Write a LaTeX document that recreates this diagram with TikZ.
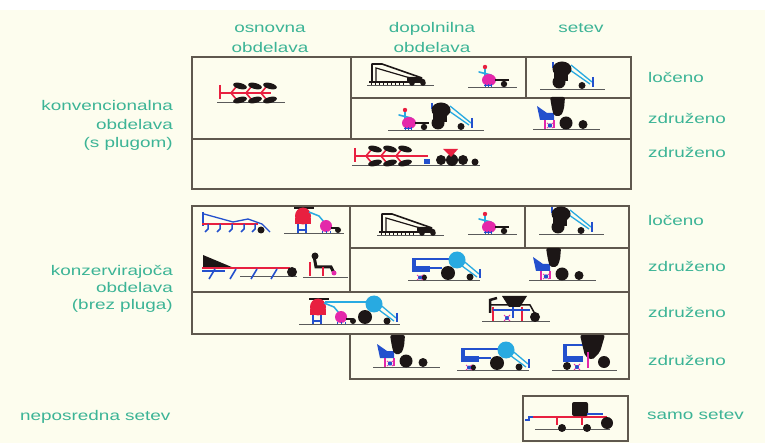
\documentclass[tikz,border=0pt]{standalone}
\usepackage{fontspec}
\setmainfont{Liberation Sans}[FakeStretch=1.35]
\definecolor{paper}{RGB}{253,253,238}
\definecolor{lbl}{RGB}{60,180,150}
\definecolor{rule}{RGB}{95,88,78}
\definecolor{ink}{RGB}{28,22,22}
\definecolor{plred}{RGB}{232,32,64}
\definecolor{mag}{RGB}{228,40,170}
\definecolor{cyn}{RGB}{40,170,225}
\definecolor{blu}{RGB}{35,80,205}
\definecolor{gndc}{RGB}{90,90,90}
\tikzset{
  box/.style={rule, line width=1.2pt},
  lab/.style={lbl, font=\fontsize{14}{18.5}\selectfont, inner sep=0pt},
  gnd/.style={gndc, line width=0.8pt},
  % plough with three shares
  plough/.pic={
    \draw[gnd] (0,0) -- (68,0);
    \draw[plred, line width=2pt] (3,-17) -- (3,-3) (3,-9) -- (54,-9);
    \foreach \s in {14,29,44}{
      \draw[plred, line width=1.6pt] (\s,-9) -- (\s+5,-15) (\s,-9) -- (\s+5,-3);
      \fill[ink, rotate around={-14:(\s+9,-16)}] (\s+9,-16) ellipse (7 and 3);
      \fill[ink, rotate around={14:(\s+9,-2)}] (\s+9,-2) ellipse (7 and 3);
    }
  },
  % harrow frame
  frame/.pic={
    \draw[gnd] (0,0) -- (67,0);
    \draw[ink, line width=1.6pt, line join=round] (5,-3) -- (5,-21) -- (15,-21) -- (55,-7);
    \draw[ink, line width=1.2pt] (9,-3) -- (9,-17) -- (50,-5);
    \draw[ink, line width=2.2pt] (2,-3) -- (42,-3);
    \foreach \t in {4,8,...,36} \draw[ink, line width=0.9pt] (\t,-3) -- (\t,0);
    \fill[ink] (40,-8) -- (52,-8) -- (58,-5) -- (58,-2) -- (40,-2) -- cycle;
    \fill[ink] (45,-2) circle (2.8) (56,-2) circle (2.8);
  },
  minitractor/.pic={
    \draw[gnd] (0,0) -- (49,0);
    \draw[cyn, line width=1.6pt, line cap=round] (17,-18) -- (17,-10) (11,-15) -- (23,-12);
    \fill[plred] (17,-20) circle (2.2);
    \fill[mag] (21,-7) ellipse (7 and 6);
    \draw[blu, line width=0.9pt] (17,-3) -- (17,0) (20,-3) -- (20,0) (23,-3) -- (23,0) (16,-1.5) -- (24,-1.5);
    \draw[ink, line width=2pt] (27,-7) -- (41,-7);
    \fill[ink] (36,-3) circle (3.2);
  },
  hopper/.pic={
    \draw[gnd] (0,0) -- (65,0);
    \draw[cyn, line width=1.3pt] (31,-24) -- (52,-7) (30,-19) -- (50,-5);
    \draw[blu, line width=1.6pt] (53,-12) -- (53,-2);
    \draw[blu, line width=1.4pt] (13,-27) -- (13,-21);
    \fill[ink] (22,-20) ellipse (9.5 and 7.5);
    \fill[ink] (14,-18) rectangle (28,-8);
    \fill[ink] (19,-7) circle (6.5);
    \fill[ink] (42,-3.5) circle (3.5);
  },
  planter/.pic={
    \draw[gnd] (0,0) -- (67,0);
    \fill[blu] (4,-23) -- (14,-16) -- (21,-16) -- (21,-9) -- (7,-9) -- cycle;
    \draw[mag, line width=1.2pt] (12,-9) -- (12,0) (21,-9) -- (21,-1);
    \fill[ink, rounded corners=2pt] (17,-32) -- (32,-32) -- (31,-20) -- (28,-13) -- (21,-13) -- (19,-20) -- cycle;
    \fill[ink] (33,-6) circle (6.5);
    \fill[ink] (50,-4.5) circle (4.5);
    \draw[mag, line width=0.8pt] (14,-6) -- (20,-1) (14,-1) -- (20,-6);
    \fill[blu] (17,-3.5) circle (2.2);
  },
  seedbox/.pic={
    \draw[cyn, line width=1.3pt] (12,-22) -- (31,-6) (10,-17) -- (29,-3);
    \draw[blu, line width=1.6pt] (32,-11) -- (32,-2);
    \fill[cyn] (9,-20) circle (8.5);
    \fill[ink] (0,-7) circle (7);
    \fill[ink] (22,-3) circle (3.5);
  },
  drill/.pic={
    \draw[gnd] (0,0) -- (72,0);
    \draw[blu, line width=1.6pt] (6,-21) -- (45,-21);
    \fill[blu] (4,-22) rectangle (8,-8);
    \fill[blu] (8,-14) rectangle (22,-8);
    \draw[blu, line width=1.2pt] (22,-12) -- (34,-12);
    \fill[ink] (16,-2.5) circle (3);
    \draw[mag, line width=0.8pt] (9,-5) -- (15,0) (9,0) -- (15,-5);
    \fill[blu] (12,-2.5) circle (2);
    \pic at (40,0) {seedbox};
  },
  redtractor/.pic={
    \draw[gnd] (0,0) -- (60,0);
    \draw[ink, line width=1.2pt] (10,-25) -- (30,-25);
    \draw[blu, line width=1.2pt] (14,-9) -- (14,0) (22,-9) -- (22,0) (13,-3) -- (23,-3);
    \fill[plred] (19,-17) ellipse (8 and 8.5);
    \fill[plred] (11,-15) rectangle (27,-9);
    \draw[cyn, line width=1.5pt] (25,-21) -- (35,-17) -- (40,-11);
    \fill[mag] (42,-7) circle (6);
    \draw[blu, line width=0.9pt] (38,-2) -- (38,0) (42,-2) -- (42,0) (46,-2) -- (46,0);
    \draw[ink, line width=1.5pt] (47,-5) -- (54,-5);
    \fill[ink] (54,-3) circle (3);
  }
}
\begin{document}
\begin{tikzpicture}[x=1pt,y=-1pt]
\useasboundingbox (0,0) rectangle (765,443);
\fill[white] (0,0) rectangle (765,443);
\fill[paper] (0,10) rectangle (765,443);

% column and row labels (base = last line)
\node[lab, align=center, anchor=base] (osn) at (270,53) {osnovna\\[1.5pt]obdelava};
\node[lab, align=center, anchor=base] (dop) at (432,53) {dopolnilna\\[1.5pt]obdelava};
\node[lab, anchor=base] (set) at (581,33) {setev};
\node[lab, align=right, anchor=base east] (konv) at (173,148) {konvencionalna\\obdelava\\(s plugom)};
\node[lab, align=right, anchor=base east] (konz) at (173,310) {konzervirajoča\\[-1pt]obdelava\\[-1pt](brez pluga)};
\node[lab, anchor=base west] (nep) at (20,420) {neposredna setev};
\node[lab, anchor=base west] (loc1) at (648,83) {ločeno};
\node[lab, anchor=base west] (zdr1) at (648,124) {združeno};
\node[lab, anchor=base west] (zdr2) at (648,158) {združeno};
\node[lab, anchor=base west] (loc2) at (648,226) {ločeno};
\node[lab, anchor=base west] (zdr3) at (648,272) {združeno};
\node[lab, anchor=base west] (zdr4) at (648,317) {združeno};
\node[lab, anchor=base west] (zdr5) at (648,365) {združeno};
\node[lab, anchor=base west] (samo) at (647,419) {samo setev};

% upper table
\draw[box] (192,57) rectangle (631,189);
\draw[box] (351,57) -- (351,139) (351,98) -- (631,98) (526,57) -- (526,98) (192,139) -- (631,139);
% lower table
\draw[box] (192,206) -- (629,206) -- (629,379) -- (350,379) -- (350,334) -- (192,334) -- cycle;
\draw[box] (350,206) -- (350,292) (350,248) -- (629,248) (525,206) -- (525,248)
  (192,292) -- (629,292) (350,334) -- (629,334);
% small box
\draw[box] (523,396) rectangle (628,441);

% upper table machines
\pic at (217,102) {plough};
\pic at (367,85) {frame};
\pic at (468,87) {minitractor};
\pic at (540,89) {hopper};
\pic at (388,130) {minitractor};
\pic at (419,130) {hopper};
\pic at (533,129) {planter};
\pic at (352,165) {plough};
\draw[gnd] (420,165) -- (480,165);
\draw[plred, line width=2pt] (406,156) -- (428,156);
\fill[blu] (424,159) rectangle (430,164);
\fill[ink] (441,160) circle (5) (452,160) circle (6) (463,160) circle (5) (475,162) circle (3.5);
\fill[plred] (443,149) -- (458,149) -- (451,157) -- cycle;

% lower table, left cell: cultivator
\draw[blu, line width=2.2pt] (203,212) -- (203,226);
\draw[plred, line width=2pt] (202,224) -- (258,224);
\draw[blu, line width=1.3pt] (204,214) -- (233,222) -- (248,219) -- (262,224) -- (270,232);
\foreach \t in {208,220,232,244,255}
  \draw[blu, line width=1.5pt] (\t,224) -- (\t,229) -- (\t-3,232);
\fill[ink] (261,230) circle (3.5);
\pic at (284,233) {redtractor};
% subsoiler
\draw[gnd] (240,276) -- (297,276);
\fill[ink] (203,255) -- (203,268) -- (234,268) -- cycle;
\draw[plred, line width=2pt] (202,268) -- (290,268);
\draw[blu, line width=1.2pt] (202,271) -- (225,271);
\foreach \t in {215,236,257,277}
  \draw[blu, line width=1.6pt] (\t,269) -- (\t-6,279);
\fill[ink] (292,272) circle (5);
% seat
\draw[gnd] (303,277) -- (348,277);
\draw[ink, line width=3pt, line cap=round] (314,256) -- (316,267) -- (331,267) -- (334,273);
\fill[ink] (315,256) circle (3.5);
\draw[plred, line width=2pt] (310,262) -- (310,276);
\draw[plred, line width=1.5pt] (323,267) -- (323,276);
\fill[mag] (334,273) circle (2.5);

% lower table, right cells
\pic at (377,235) {frame};
\pic at (468,234) {minitractor};
\pic at (539,234) {hopper};
\pic at (408,280) {drill};
\pic at (529,280) {planter};
\pic at (299,324) {redtractor};
\draw[gnd] (359,324) -- (400,324);
\draw[cyn, line width=1.2pt] (325,302) -- (366,302);
\pic at (365,324) {seedbox};
% planter with frame
\draw[gnd] (482,321) -- (550,321);
\draw[ink, line width=2.5pt] (490,313) -- (490,300) -- (497,298);
\draw[ink, line width=1.5pt] (490,305) -- (530,305) -- (535,314);
\fill[ink] (502,296) -- (527,296) -- (520,307) -- (509,307) -- cycle;
\draw[plred, line width=1.8pt] (493,307) -- (493,321) (522,307) -- (522,321);
\draw[blu, line width=1.4pt] (493,310) -- (530,310) (513,307) -- (513,318);
\draw[mag, line width=0.8pt] (504,315) -- (510,321) (504,321) -- (510,315);
\fill[blu] (507,318) circle (2);
\fill[ink] (535,317) circle (5);
\pic at (373,367) {planter};
\pic at (457,370) {drill};
\draw[gnd] (552,370) -- (617,370);
\fill[blu] (563,344) rectangle (567,362);
\fill[blu] (567,356) rectangle (583,362);
\draw[blu, line width=1.4pt] (565,345) -- (585,345);
\fill[ink, rounded corners=2pt] (580,335) -- (605,335) -- (600,352) -- (592,360) -- (585,356) -- cycle;
\draw[mag, line width=2pt] (588,352) -- (588,368);
\draw[mag, line width=0.8pt] (574,364) -- (580,370) (574,370) -- (580,364);
\fill[blu] (577,367) circle (2);
\fill[ink] (567,366) circle (4) (604,362) circle (6);

% direct drill
\draw[gnd] (535,429) -- (610,429);
\draw[blu, line width=1.8pt] (525,420) -- (529,420) -- (529,417) -- (535,417);
\draw[plred, line width=2pt] (533,417) -- (607,417);
\draw[plred, line width=1.6pt] (557,417) -- (557,425) (582,417) -- (582,425);
\fill[ink, rounded corners=2pt] (572,402) rectangle (588,416);
\draw[blu, line width=1.8pt] (587,414) -- (603,414);
\fill[ink] (562,428) circle (4) (587,428) circle (4) (607,423) circle (6);
\end{tikzpicture}
\end{document}
